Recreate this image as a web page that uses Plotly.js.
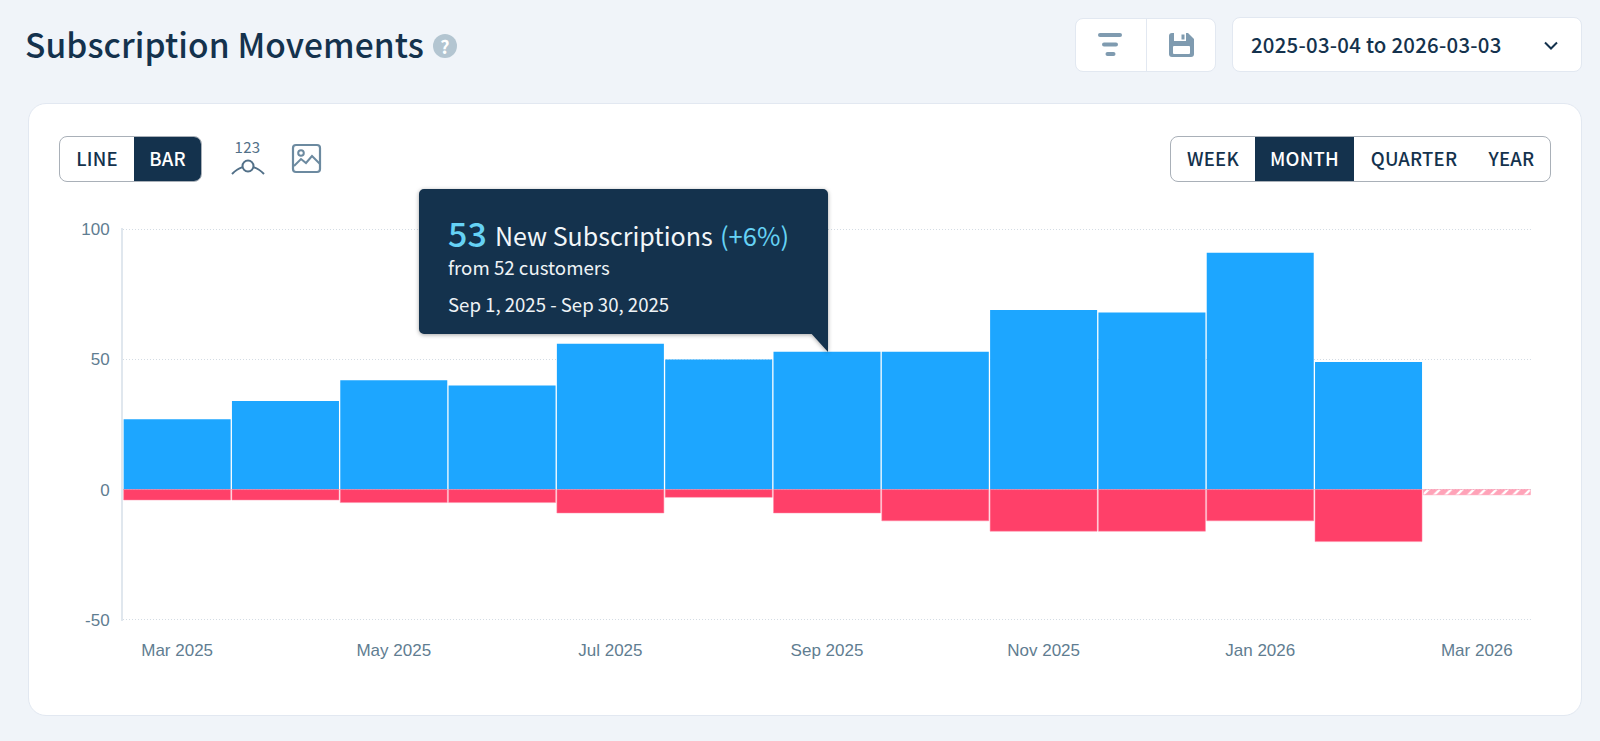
<!DOCTYPE html>
<html><head><meta charset="utf-8">
<script src="https://cdn.plot.ly/plotly-3.0.1.min.js"></script>
<style>
html,body{margin:0;padding:0;width:1600px;height:741px;overflow:hidden;background:#f0f4f9;font-family:"Noto Sans CJK SC","Noto Sans",sans-serif;color:#14324d}
.a{position:absolute;white-space:nowrap}
.box{position:absolute;box-sizing:border-box;background:#fff;border:1px solid #e2e8f1}
.seg{position:absolute;box-sizing:border-box;background:#fff;border:1.5px solid #a9b0b8;border-radius:8px;overflow:hidden;height:46px;top:135.5px}
.seg div{position:absolute;top:0;height:100%;line-height:43px;text-align:center;font-size:18.5px;font-weight:500;letter-spacing:.2px;color:#14324d}
.seg div.on{background:#14324d;color:#fff}
#chart{position:absolute;left:0;top:0;width:1600px;height:741px}
#tip{position:absolute;left:0;top:0;filter:drop-shadow(0 1px 2px rgba(0,0,0,.35))}
</style></head><body>
<div class="a" id="title" style="left:25px;top:16px;font-size:33.5px;font-weight:500;line-height:56px;letter-spacing:.1px">Subscription Movements</div>
<div class="a" style="left:433px;top:34px;width:24px;height:24px;border-radius:12px;background:#b3c5d1;color:#fff;text-align:center;font-size:18px;font-weight:700;line-height:24px">?</div>

<div class="box" style="left:1075px;top:18px;width:141px;height:54px;border-radius:8px"></div>
<div class="a" style="left:1146px;top:18px;width:1px;height:54px;background:#e2e8f1"></div>
<svg class="a" style="left:1097px;top:32px" width="28" height="26"><g fill="#7f9bb0"><rect x="1" y="1" width="24" height="4" rx="2"/><rect x="5" y="10.5" width="16" height="4" rx="2"/><rect x="8.5" y="20" width="10" height="4" rx="2"/></g></svg>
<svg class="a" style="left:1169px;top:32px" width="26" height="26"><path d="M3 1H19L25 7V22a3 3 0 0 1-3 3H3a3 3 0 0 1-3-3V4a3 3 0 0 1 3-3z" fill="#7f9bb0"/><rect x="4" y="14" width="17" height="8" fill="#fff" rx="1"/><rect x="5" y="1" width="12" height="8" fill="#fff"/><rect x="12.5" y="2.5" width="3" height="5" fill="#7f9bb0"/></svg>

<div class="box" style="left:1232px;top:17px;width:350px;height:55px;border-radius:8px"></div>
<div class="a" style="left:1251px;top:27px;font-size:20.4px;font-weight:500;line-height:34px;letter-spacing:.25px">2025-03-04 to 2026-03-03</div>
<svg class="a" style="left:1543px;top:40px" width="16" height="12"><path d="M2 2.5L8 8.5L14 2.5" fill="none" stroke="#14324d" stroke-width="2"/></svg>

<div class="box" style="left:28px;top:103px;width:1554px;height:613px;border-radius:18px"></div>

<div class="seg" style="left:59px;width:143px"><div style="left:0;width:74px">LINE</div><div class="on" style="left:74px;width:67px">BAR</div><div class="on" style="left:141px;width:3px"></div></div>
<div class="a" style="left:232px;top:137px;width:31px;text-align:center;font-size:15px;line-height:20px;color:#527088;letter-spacing:.4px">123</div>
<svg class="a" style="left:230px;top:156px" width="36" height="22"><path d="M2 18C8 12 10 12 13 11M23 11C26 12 28 12 34 18" fill="none" stroke="#527088" stroke-width="2"/><circle cx="18" cy="10" r="5.5" fill="none" stroke="#527088" stroke-width="2"/></svg>
<svg class="a" style="left:291px;top:143px" width="31" height="31"><rect x="2" y="2" width="27" height="27" rx="3" fill="none" stroke="#6c8aa0" stroke-width="2.2"/><circle cx="10" cy="10" r="2.8" fill="none" stroke="#6c8aa0" stroke-width="2"/><path d="M3 23L10 16L15 20L21 13L29 21" fill="none" stroke="#6c8aa0" stroke-width="2"/></svg>

<div class="seg" style="left:1170px;width:381px"><div style="left:0;width:84px">WEEK</div><div class="on" style="left:84px;width:99px">MONTH</div><div style="left:183px;width:120px">QUARTER</div><div style="left:303px;width:75px">YEAR</div></div>

<div id="chart"></div>

<svg id="tip" width="1600" height="741" style="pointer-events:none"><path d="M424 189H823a5 5 0 0 1 5 5V352L811.7 334H424a5 5 0 0 1-5-5V194a5 5 0 0 1 5-5z" fill="#14324d"/></svg>
<div class="a" style="left:448px;top:211px;font-size:34px;line-height:44px;font-weight:500;color:#66d2f5">53</div>
<div class="a" style="left:495px;top:216px;font-size:25px;line-height:38px;color:#f2f6f9">New Subscriptions</div>
<div class="a" style="left:720px;top:216px;font-size:25.5px;line-height:38px;color:#66d2f5">(+6%)</div>
<div class="a" style="left:448px;top:253px;font-size:18.7px;line-height:28px;color:#eef3f6">from 52 customers</div>
<div class="a" style="left:448px;top:290px;font-size:18.6px;line-height:28px;color:#eef3f6">Sep 1, 2025 - Sep 30, 2025</div>

<script>
const months = ["Mar 2025","Apr 2025","May 2025","Jun 2025","Jul 2025","Aug 2025","Sep 2025","Oct 2025","Nov 2025","Dec 2025","Jan 2026","Feb 2026","Mar 2026"];
const tickMonths = ["Mar 2025","May 2025","Jul 2025","Sep 2025","Nov 2025","Jan 2026","Mar 2026"];
const newSubscriptions = [27,34,42,40,56,50,53,53,69,68,91,49,0];
const churned = [-4,-4,-5,-5,-9,-3,-9,-12,-16,-16,-12,-20,-2];
const yTicks = [-50,0,50,100];
const churnPattern = ["","","","","","","","","","","","","/"];
const churnColors = ["#ff4069","#ff4069","#ff4069","#ff4069","#ff4069","#ff4069","#ff4069","#ff4069","#ff4069","#ff4069","#ff4069","#ff4069","#ffa3b8"];

Plotly.newPlot("chart",[
 {type:"bar",x:months,y:newSubscriptions,name:"New Subscriptions",marker:{color:"#1da6ff",line:{width:0}},hoverinfo:"skip"},
 {type:"bar",x:months,y:churned,name:"Churned",marker:{color:churnColors,line:{color:"#ff8aa6",width:0.5},pattern:{shape:churnPattern,fgcolor:"#ff2f5e",bgcolor:"#ff8fab",size:8,solidity:0.7}},hoverinfo:"skip"}
],{
 width:1600,height:741,showlegend:false,barmode:"relative",bargap:0.012,
 margin:{l:122.6,r:69,t:228,b:120.4,pad:0},
 paper_bgcolor:"rgba(0,0,0,0)",plot_bgcolor:"rgba(0,0,0,0)",
 font:{family:"Liberation Sans, Arial, sans-serif",size:17,color:"#5f7d91"},
 xaxis:{type:"category",categoryorder:"array",categoryarray:months,range:[-0.5,12.5],tickmode:"array",tickvals:tickMonths,ticktext:tickMonths,tickangle:0,
  showgrid:false,zeroline:false,showline:false,ticks:"outside",ticklen:14,tickcolor:"rgba(0,0,0,0)",fixedrange:true},
 yaxis:{range:[-50.5,100.5],tickmode:"array",tickvals:yTicks,ticktext:yTicks.map(String),showgrid:true,gridcolor:"#d4dce4",griddash:"1px,2px",gridwidth:1,
  zeroline:false,showline:true,linecolor:"#e0e7ee",linewidth:2,ticks:"outside",ticklen:8,tickcolor:"rgba(0,0,0,0)",fixedrange:true}
},{displayModeBar:false,staticPlot:true});
</script>
</body></html>
